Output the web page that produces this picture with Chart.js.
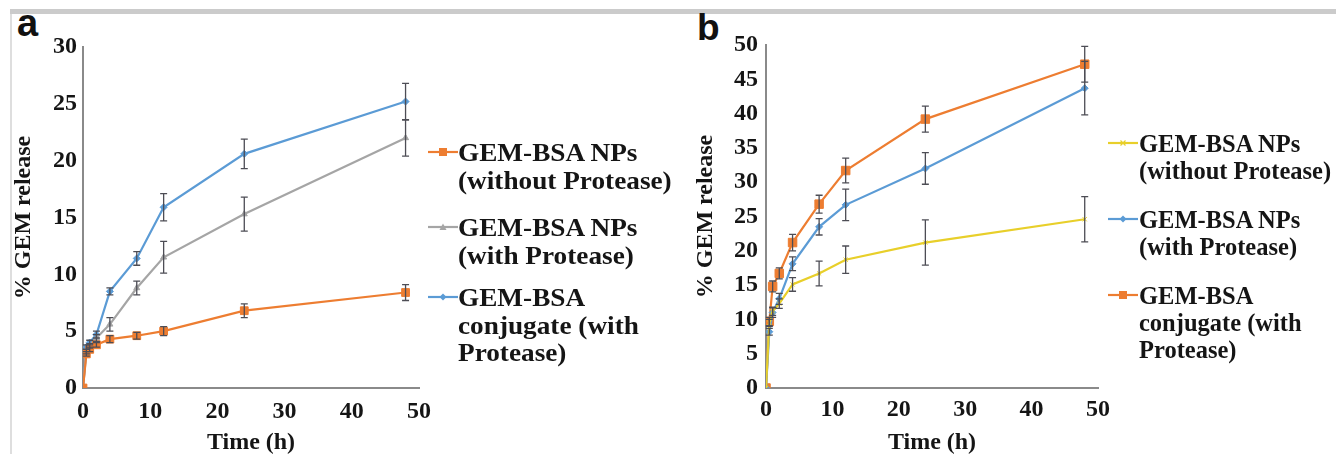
<!DOCTYPE html>
<html>
<head>
<meta charset="utf-8">
<script src="https://cdn.jsdelivr.net/npm/chart.js@4/dist/chart.umd.min.js"></script>
<style>
  html, body { margin:0; padding:0; background:#fff; }
  body { width:1336px; height:454px; position:relative; overflow:hidden; font-family:"Liberation Serif", serif; }
  .abs { position:absolute; }
  .band { left:10px; top:9px; width:1326px; height:5px; background:#cbcbcb; }
  .vline { left:10px; top:14px; width:2px; height:440px; background:#dedede; }
  .letter { font-family:"Liberation Sans", Arial, sans-serif; font-weight:bold; color:#111; line-height:1; }
  .leg { font-weight:bold; color:#151515; white-space:nowrap; transform-origin:0 0; }
  svg.mk { position:absolute; overflow:visible; }
</style>
</head>
<body>
<div class="abs band"></div>
<div class="abs vline"></div>
<div class="abs letter" style="left:17px; top:4px; font-size:38px;">a</div>
<div class="abs letter" style="left:697px; top:9px; font-size:37px;">b</div>

<canvas id="chartA" class="abs" width="440" height="454" style="left:0;top:0;"></canvas>
<canvas id="chartB" class="abs" width="440" height="454" style="left:680px;top:0;"></canvas>

<div id="legA"></div>
<div id="legB"></div>

<script>
// ---------- data ----------
const times = [0, 0.5, 1, 2, 4, 8, 12, 24, 48];

// Panel a
const aLabels = [["GEM-BSA NPs", "(without Protease)"], ["GEM-BSA NPs", "(with Protease)"], ["GEM-BSA", "conjugate (with", "Protease)"]];
const aNpNoProt    = [0, 3.0, 3.4, 3.8, 4.3, 4.6, 5.0, 6.8, 8.4];
const aNpNoProtErr = [0, 0.2, 0.2, 0.2, 0.3, 0.3, 0.4, 0.6, 0.7];
const aNpProt      = [0, 3.2, 3.7, 4.4, 5.6, 8.8, 11.5, 15.3, 22.0];
const aNpProtErr   = [0, 0.2, 0.2, 0.3, 0.6, 0.6, 1.4, 1.5, 1.6];
const aConjProt    = [0, 3.6, 4.0, 4.7, 8.5, 11.4, 15.9, 20.6, 25.2];
const aConjProtErr = [0, 0.2, 0.2, 0.3, 0.3, 0.6, 1.2, 1.3, 1.6];

// Panel b
const bLabels = [["GEM-BSA NPs", "(without Protease)"], ["GEM-BSA NPs", "(with Protease)"], ["GEM-BSA", "conjugate (with", "Protease)"]];
const bNpNoProt    = [0, 9.5, 11.2, 12.3, 15.1, 16.7, 18.7, 21.2, 24.6];
const bNpNoProtErr = [0, 0.5, 0.6, 0.7, 1.0, 1.8, 2.0, 3.3, 3.3];
const bNpProt      = [0, 8.2, 11.0, 13.0, 18.1, 23.5, 26.7, 32.0, 43.7];
const bNpProtErr   = [0, 0.5, 0.7, 0.8, 1.0, 1.2, 2.3, 2.3, 3.9];
const bConjProt    = [0, 9.7, 14.8, 16.7, 21.2, 26.8, 31.7, 39.2, 47.2];
const bConjProtErr = [0, 0.6, 0.8, 0.8, 1.2, 1.3, 1.8, 1.9, 2.6];

const xTicks = [0, 10, 20, 30, 40, 50];
const aYTicks = [0, 5, 10, 15, 20, 25, 30];
const bYTicks = [0, 5, 10, 15, 20, 25, 30, 35, 40, 45, 50];

// ---------- styles ----------
const ORANGE = '#ED7D31', GREY = '#A5A5A5', BLUE = '#5B9BD5', YELLOW = '#E8CF2A';
const AXIS = '#8a8a8a';

function pts(vals) { return times.map((t, i) => ({ x: t, y: vals[i] })); }

const errorBars = {
  id: 'errorBars',
  afterDatasetsDraw(chart) {
    const { ctx, scales: { x, y } } = chart;
    chart.data.datasets.forEach(ds => {
      if (!ds.errors) return;
      ctx.save();
      ctx.strokeStyle = '#4d4d55';
      ctx.lineWidth = 1.3;
      ds.data.forEach((p, j) => {
        const e = ds.errors[j];
        if (!e) return;
        const px = x.getPixelForValue(p.x);
        const t = y.getPixelForValue(p.y + e), b = y.getPixelForValue(p.y - e);
        ctx.beginPath();
        ctx.moveTo(px, t); ctx.lineTo(px, b);
        ctx.moveTo(px - 3.5, t); ctx.lineTo(px + 3.5, t);
        ctx.moveTo(px - 3.5, b); ctx.lineTo(px + 3.5, b);
        ctx.stroke();
      });
      ctx.restore();
    });
  }
};

Chart.defaults.font.family = '"Liberation Serif", serif';
Chart.defaults.font.weight = 'bold';
Chart.defaults.color = '#151515';

function ds(label, vals, errs, color, style, radius) {
  return {
    label, data: pts(vals), errors: errs,
    borderColor: color, backgroundColor: color,
    borderWidth: 2.2, tension: 0,
    pointStyle: style, pointRadius: radius, pointHoverRadius: radius,
    pointBorderColor: color, pointBackgroundColor: color, pointBorderWidth: 1
  };
}

function makeChart(id, datasets, yMax, yTicks, geom) {
  return new Chart(document.getElementById(id), {
    type: 'line',
    data: { datasets },
    plugins: [errorBars],
    options: {
      responsive: false, animation: false, devicePixelRatio: 1,
      layout: { padding: { left: 0, right: geom.padRight, top: geom.padTop, bottom: 0 } },
      plugins: { legend: { display: false }, tooltip: { enabled: false } },
      scales: {
        x: {
          type: 'linear', min: 0, max: 50,
          afterBuildTicks: s => { s.ticks = xTicks.map(v => ({ value: v })); },
          afterFit: s => { s.height = geom.xHeight; },
          grid: { display: false, drawTicks: false },
          border: { display: true, color: AXIS, width: 2 },
          ticks: { padding: geom.xTickPad, font: { size: 24, weight: 'bold', lineHeight: 1.2 }, color: '#151515' },
          title: { display: true, text: 'Time (h)', font: { size: 24, weight: 'bold', lineHeight: 0.9 }, padding: 0, color: '#151515' }
        },
        y: {
          type: 'linear', min: 0, max: yMax,
          afterBuildTicks: s => { s.ticks = yTicks.map(v => ({ value: v })); },
          afterFit: s => { s.width = geom.yWidth; },
          grid: { display: false, drawTicks: false },
          border: { display: true, color: AXIS, width: 2 },
          ticks: { padding: geom.yTickPad, font: { size: 24, weight: 'bold', lineHeight: 1.2 }, color: '#151515' },
          title: { display: true, text: '% GEM release', font: { size: 24, weight: 'bold', lineHeight: 1.2 }, padding: { top: geom.yTitlePad, bottom: 0 }, color: '#151515' }
        }
      }
    }
  });
}

const aSets = [
  ds(aLabels[0].join(' '), aNpNoProt, aNpNoProtErr, ORANGE, 'rect', 5.5),
  ds(aLabels[1].join(' '), aNpProt, aNpProtErr, GREY, 'triangle', 3.5),
  ds(aLabels[2].join(' '), aConjProt, aConjProtErr, BLUE, 'rectRot', 3.5)
];
const bSets = [
  ds(bLabels[0].join(' '), bNpNoProt, bNpNoProtErr, YELLOW, 'crossRot', 3),
  ds(bLabels[1].join(' '), bNpProt, bNpProtErr, BLUE, 'rectRot', 3.5),
  ds(bLabels[2].join(' '), bConjProt, bConjProtErr, ORANGE, 'rect', 6)
];

makeChart('chartA', aSets, 30, aYTicks, { padRight: 18, padTop: 47, xHeight: 66, yWidth: 83, xTickPad: 9, yTickPad: 6, yTitlePad: 9.5 });
makeChart('chartB', bSets, 50, bYTicks, { padRight: 22, padTop: 45, xHeight: 66, yWidth: 86, xTickPad: 7, yTickPad: 8, yTitlePad: 11.5 });

// ---------- HTML legends ----------
function markerSVG(style, color) {
  let shape = '';
  if (style === 'rect') shape = `<rect x="11" y="-4" width="8" height="8" fill="${color}"/>`;
  else if (style === 'rectRot') shape = `<polygon points="15,-3.5 18.5,0 15,3.5 11.5,0" fill="${color}"/>`;
  else if (style === 'triangle') shape = `<polygon points="15,-3.5 18.5,3 11.5,3" fill="${color}"/>`;
  else if (style === 'crossRot') shape = `<path d="M12.5,-2.5 L17.5,2.5 M17.5,-2.5 L12.5,2.5" stroke="${color}" stroke-width="1.2"/>`;
  return `<line x1="0" y1="0" x2="30" y2="0" stroke="${color}" stroke-width="2.2"/>` + shape;
}

function buildLegend(id, sets, labels, geom) {
  const root = document.getElementById(id);
  sets.forEach((s, i) => {
    const my = geom.markerY[i];
    const svg = document.createElementNS('http://www.w3.org/2000/svg', 'svg');
    svg.setAttribute('class', 'mk');
    svg.setAttribute('width', '30'); svg.setAttribute('height', '1');
    svg.style.left = geom.markerX + 'px'; svg.style.top = my + 'px';
    svg.innerHTML = markerSVG(s.pointStyle, s.borderColor);
    root.appendChild(svg);
    const box = document.createElement('div');
    box.className = 'abs leg';
    box.style.left = geom.textX + 'px';
    box.style.top = (my - geom.firstOffset) + 'px';
    box.style.fontSize = geom.fontSize + 'px';
    box.style.lineHeight = geom.lineH + 'px';
    box.style.transform = `scaleX(${geom.stretch})`;
    box.innerHTML = labels[i].map(t => `<span style="display:block">${t}</span>`).join('');
    root.appendChild(box);
  });
}

buildLegend('legA', aSets, aLabels, { markerX: 428, textX: 458, markerY: [152, 227, 297], firstOffset: 13, fontSize: 25, lineH: 27.5, stretch: 1.09 });
buildLegend('legB', bSets, bLabels, { markerX: 1108, textX: 1139, markerY: [143, 219, 295], firstOffset: 13, fontSize: 24.5, lineH: 27, stretch: 1 });
</script>
</body>
</html>
